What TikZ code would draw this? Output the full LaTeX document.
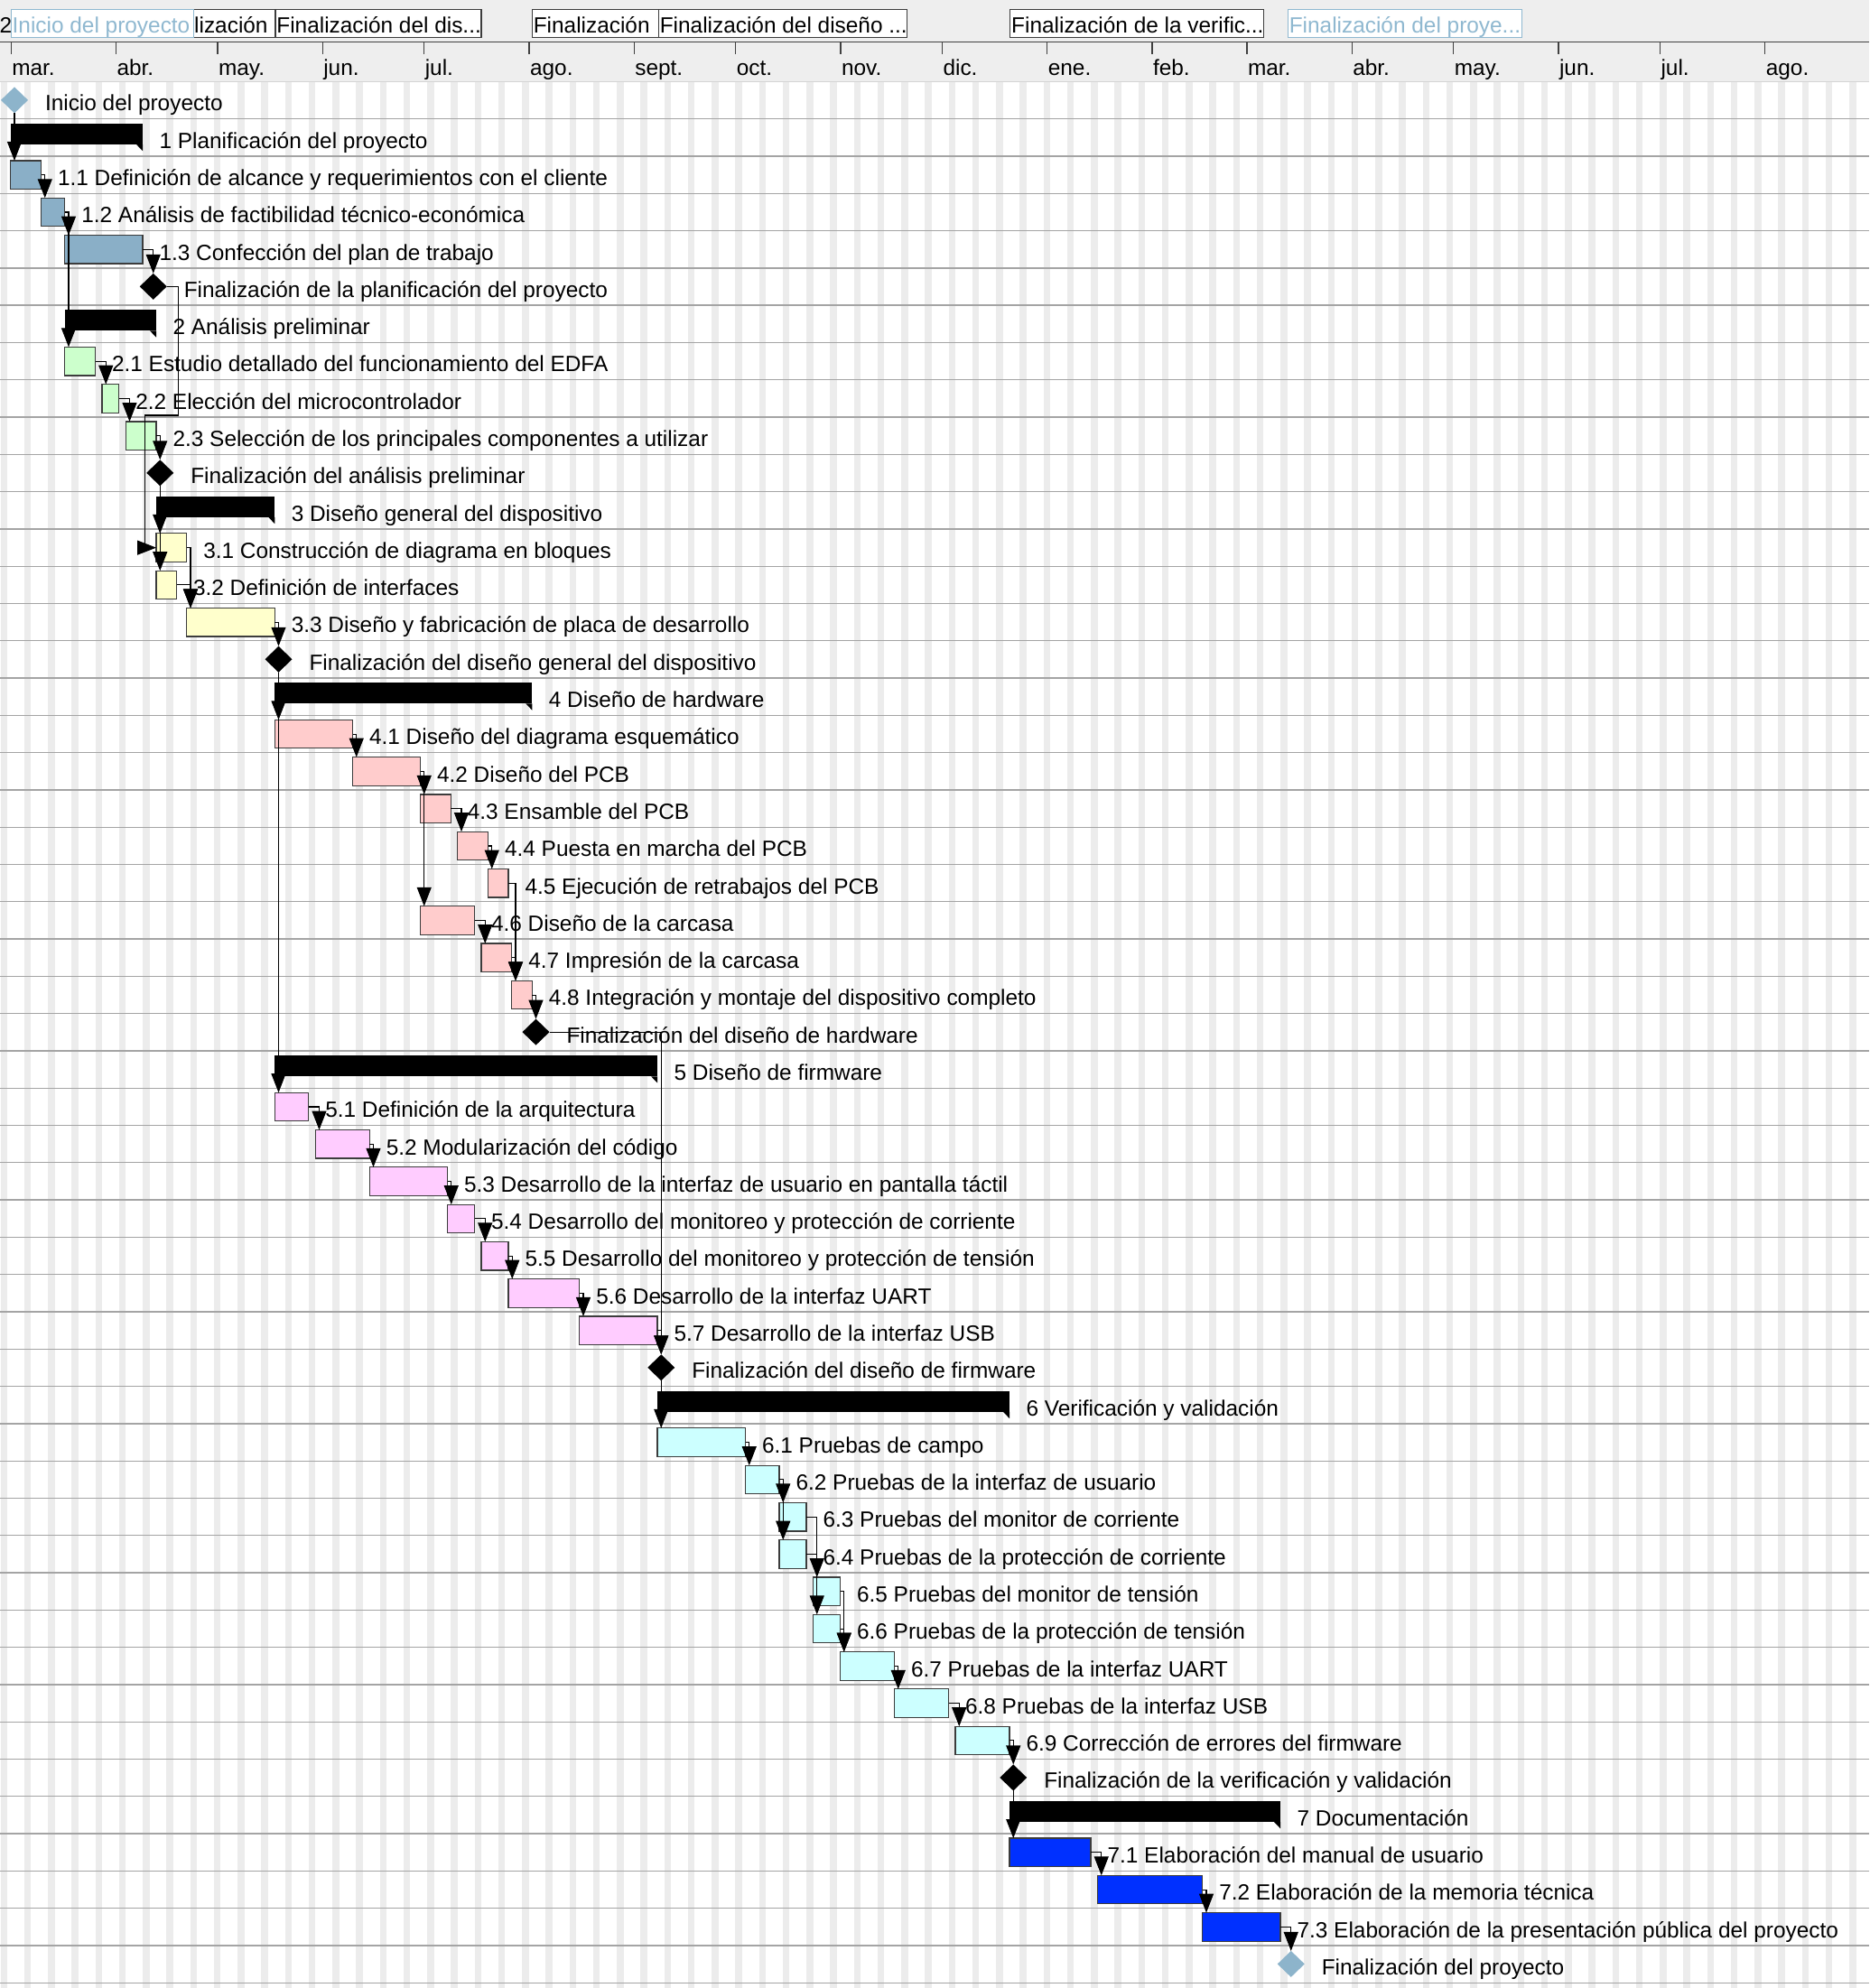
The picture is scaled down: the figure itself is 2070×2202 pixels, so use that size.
\documentclass[tikz,border=0pt]{standalone}
\usepackage{fontspec}
\setmainfont{Liberation Sans}
\usetikzlibrary{shapes.geometric,arrows.meta,calc}
\definecolor{gA}{HTML}{8AAFC7}
\definecolor{gB}{HTML}{CCFFCC}
\definecolor{gC}{HTML}{FFFFCC}
\definecolor{gD}{HTML}{FFCCCC}
\definecolor{gE}{HTML}{FFCCFF}
\definecolor{gF}{HTML}{CCFFFF}
\definecolor{gG}{HTML}{0030FF}
\definecolor{msblue}{HTML}{8DB4CB}
\definecolor{hdrblue}{HTML}{8FB8D0}
\definecolor{barline}{HTML}{3C3C3C}
\definecolor{hdrgray}{HTML}{EEEEEE}
\definecolor{wkend}{HTML}{ECECEC}
\definecolor{rowline}{HTML}{A4A4A4}
\definecolor{hdrline}{HTML}{D4D4D4}
\definecolor{axisc}{HTML}{404040}

\newcommand{\gTask}[6]{%
  \node[tbar, fill=#5, minimum width={3.75*(#4-#3)}] (#1) at ({gx(#3)},{gy(#2)+5}) {};
  \node[txt] (#1-l) at ({gx(#4)+18.5},{gy(#2)+32.5}) {#6};}
\newcommand{\gSum}[5]{%
  \node[sbar, minimum width={3.75*(#4-#3)}] (#1) at ({gx(#3)},{gy(#2)+5}) {};
  \fill (#1.south west) -- ++(0,7.3) -- ++(7,-7.3) -- cycle;
  \fill (#1.south east) -- ++(0,7.3) -- ++(-7,-7.3) -- cycle;
  \node[txt] (#1-l) at ({gx(#4)+18.5},{gy(#2)+32.5}) {#5};}
\newcommand{\gMile}[5]{%
  \node[ms, fill=#4] (#1) at ({gx(#3)+4.2},{gy(#2)+20.5}) {};
  \node[txt] (#1-l) at ({gx(#3)+38.2},{gy(#2)+32.5}) {#5};}
\newcommand{\gFS}[2]{\draw[dep] (#1.east) -| ($(#2.north west)+(4.2,0)$);}
\newcommand{\gTM}[2]{\draw[dep] (#1.east) -| (#2.north);}
\newcommand{\gMT}[2]{\draw[dep] (#1.south) -- ($(#2.north west)+(4.2,0)$);}
% header box: name, x, width, border colour, text x, text, text colour
\newcommand{\gHdr}[7]{%
  \node[hb, draw=#4, minimum width=#3] (#1) at (#2,10.5) {};
  \begin{scope}
    \clip (#2,10.5) rectangle ++(#3,31);
    \node[txt, text=#7] (#1-t) at (#5,36.5) {#6};
  \end{scope}}

\begin{document}
\begin{tikzpicture}[x=1pt,y=-1pt,
  declare function={gx(\x)=11.8+3.75*\x; gy(\x)=90.4+41.29*\x;},
  every node/.style={inner sep=0pt, outer sep=0pt},
  txt/.style={anchor=base west, font=\fontsize{24.4}{29}\selectfont},
  tbar/.style={rectangle, draw=barline, line width=1.2pt, anchor=north west, minimum height=31.5},
  sbar/.style={rectangle, fill=black, anchor=north west, minimum height=23.3},
  ms/.style={diamond, minimum width=30, minimum height=29},
  dep/.style={line width=1.1pt, -{Triangle[width=16pt,length=21pt]}},
  hb/.style={rectangle, fill=white, line width=1.2pt, anchor=north west, minimum height=31},
]
\useasboundingbox (0,0) rectangle (2070,2202);
\fill[white] (0,0) rectangle (2070,2202);
\fill[hdrgray] (0,0) rectangle (2070,90.4);

% weekend stripes
\foreach \k in {0,...,78}
  \fill[wkend] ({gx(-3+7*\k)},90.4) rectangle ({gx(-1+7*\k)},2202);
% row lines
\foreach \r in {1,...,51}
  \draw[rowline, line width=1.3pt] (0,{gy(\r)}) -- (2070,{gy(\r)});
\draw[hdrline, line width=1.3pt] (0,90.4) -- (2070,90.4);

% time axis
\draw[axisc, line width=1.4pt] (0,46.7) -- (2070,46.7);
\foreach \d/\m [count=\i] in {0/mar.,31/abr.,61/may.,92/jun.,122/jul.,153/ago.,184/sept.,214/oct.,245/nov.,275/dic.,306/ene.,337/feb.,365/mar.,396/abr.,426/may.,457/jun.,487/jul.,518/ago.}{
  \draw[axisc, line width=1.2pt] ({gx(\d)+0.5},46.7) -- ++(0,13.3);
  \node[txt] (mo\i) at ({gx(\d)+1.5},84) {\m};
}

% milestone boxes in the header
\node[txt] (h2) at (-0.3,36.5) {2};
\gHdr{hb5}{166.2}{138.8}{barline}{215.2}{lización}{black}
\gHdr{hb0}{12.3}{202.2}{hdrblue}{13.7}{Inicio del proyecto}{hdrblue}
\gHdr{hb15}{305}{228}{barline}{306.4}{Finalización del dis...}{black}
\gHdr{hb25}{589.4}{140}{barline}{590.8}{Finalización}{black}
\gHdr{hb34}{729.4}{275.2}{barline}{730.8}{Finalización del diseño ...}{black}
\gHdr{hb45}{1118.8}{280.6}{barline}{1120.2}{Finalización de la verific...}{black}
\gHdr{hb50}{1426.4}{258.8}{hdrblue}{1427.8}{Finalización del proye...}{hdrblue}

% tasks
\gMile{m0}{0}{0}{msblue}{Inicio del proyecto}
\gSum{s1}{1}{0}{39}{1 Planificación del proyecto}
\gTask{t11}{2}{0}{9}{gA}{1.1 Definición de alcance y requerimientos con el cliente}
\gTask{t12}{3}{9}{16}{gA}{1.2 Análisis de factibilidad técnico-económica}
\gTask{t13}{4}{16}{39}{gA}{1.3 Confección del plan de trabajo}
\gMile{m5}{5}{41}{black}{Finalización de la planificación del proyecto}
\gSum{s2}{6}{16}{43}{2 Análisis preliminar}
\gTask{t21}{7}{16}{25}{gB}{2.1 Estudio detallado del funcionamiento del EDFA}
\gTask{t22}{8}{27}{32}{gB}{2.2 Elección del microcontrolador}
\gTask{t23}{9}{34}{43}{gB}{2.3 Selección de los principales componentes a utilizar}
\gMile{m10}{10}{43}{black}{Finalización del análisis preliminar}
\gSum{s3}{11}{43}{78}{3 Diseño general del dispositivo}
\gTask{t31}{12}{43}{52}{gC}{3.1 Construcción de diagrama en bloques}
\gTask{t32}{13}{43}{49}{gC}{3.2 Definición de interfaces}
\gTask{t33}{14}{52}{78}{gC}{3.3 Diseño y fabricación de placa de desarrollo}
\gMile{m15}{15}{78}{black}{Finalización del diseño general del dispositivo}
\gSum{s4}{16}{78}{154}{4 Diseño de hardware}
\gTask{t41}{17}{78}{101}{gD}{4.1 Diseño del diagrama esquemático}
\gTask{t42}{18}{101}{121}{gD}{4.2 Diseño del PCB}
\gTask{t43}{19}{121}{130}{gD}{4.3 Ensamble del PCB}
\gTask{t44}{20}{132}{141}{gD}{4.4 Puesta en marcha del PCB}
\gTask{t45}{21}{141}{147}{gD}{4.5 Ejecución de retrabajos del PCB}
\gTask{t46}{22}{121}{137}{gD}{4.6 Diseño de la carcasa}
\gTask{t47}{23}{139}{148}{gD}{4.7 Impresión de la carcasa}
\gTask{t48}{24}{148}{154}{gD}{4.8 Integración y montaje del dispositivo completo}
\gMile{m25}{25}{154}{black}{Finalización del diseño de hardware}
\gSum{s5}{26}{78}{191}{5 Diseño de firmware}
\gTask{t51}{27}{78}{88}{gE}{5.1 Definición de la arquitectura}
\gTask{t52}{28}{90}{106}{gE}{5.2 Modularización del código}
\gTask{t53}{29}{106}{129}{gE}{5.3 Desarrollo de la interfaz de usuario en pantalla táctil}
\gTask{t54}{30}{129}{137}{gE}{5.4 Desarrollo del monitoreo y protección de corriente}
\gTask{t55}{31}{139}{147}{gE}{5.5 Desarrollo del monitoreo y protección de tensión}
\gTask{t56}{32}{147}{168}{gE}{5.6 Desarrollo de la interfaz UART}
\gTask{t57}{33}{168}{191}{gE}{5.7 Desarrollo de la interfaz USB}
\gMile{m34}{34}{191}{black}{Finalización del diseño de firmware}
\gSum{s6}{35}{191}{295}{6 Verificación y validación}
\gTask{t61}{36}{191}{217}{gF}{6.1 Pruebas de campo}
\gTask{t62}{37}{217}{227}{gF}{6.2 Pruebas de la interfaz de usuario}
\gTask{t63}{38}{227}{235}{gF}{6.3 Pruebas del monitor de corriente}
\gTask{t64}{39}{227}{235}{gF}{6.4 Pruebas de la protección de corriente}
\gTask{t65}{40}{237}{245}{gF}{6.5 Pruebas del monitor de tensión}
\gTask{t66}{41}{237}{245}{gF}{6.6 Pruebas de la protección de tensión}
\gTask{t67}{42}{245}{261}{gF}{6.7 Pruebas de la interfaz UART}
\gTask{t68}{43}{261}{277}{gF}{6.8 Pruebas de la interfaz USB}
\gTask{t69}{44}{279}{295}{gF}{6.9 Corrección de errores del firmware}
\gMile{m45}{45}{295}{black}{Finalización de la verificación y validación}
\gSum{s7}{46}{295}{375}{7 Documentación}
\gTask{t71}{47}{295}{319}{gG}{7.1 Elaboración del manual de usuario}
\gTask{t72}{48}{321}{352}{gG}{7.2 Elaboración de la memoria técnica}
\gTask{t73}{49}{352}{375}{gG}{7.3 Elaboración de la presentación pública del proyecto}
\gMile{m50}{50}{377}{msblue}{Finalización del proyecto}

% dependencies
\gMT{m0}{t11}
\gFS{t11}{t12}
\gFS{t12}{t13}
\gFS{t12}{t21}
\gTM{t13}{m5}
\coordinate (j1) at (197.8,{gy(9)-2});
\coordinate (j2) at (160.5,{gy(9)-2});
\draw[dep] (m5.east) -| (j1) -- (j2) |- (t31.west);
\gFS{t21}{t22}
\gFS{t22}{t23}
\gTM{t23}{m10}
\gMT{m10}{t31}
\gMT{m10}{t32}
\gFS{t31}{t33}
\gFS{t32}{t33}
\gTM{t33}{m15}
\gMT{m15}{t41}
\gMT{m15}{t51}
\gFS{t41}{t42}
\gFS{t42}{t43}
\gFS{t42}{t46}
\gFS{t43}{t44}
\gFS{t44}{t45}
\gFS{t45}{t48}
\gFS{t46}{t47}
\gFS{t47}{t48}
\gTM{t48}{m25}
\draw[dep] (m25.east) -| (m34.north);
\gFS{t51}{t52}
\gFS{t52}{t53}
\gFS{t53}{t54}
\gFS{t54}{t55}
\gFS{t55}{t56}
\gFS{t56}{t57}
\gTM{t57}{m34}
\gMT{m34}{t61}
\gFS{t61}{t62}
\gFS{t62}{t63}
\gFS{t62}{t64}
\gFS{t63}{t65}
\gFS{t64}{t66}
\gFS{t65}{t67}
\gFS{t66}{t67}
\gFS{t67}{t68}
\gFS{t68}{t69}
\gTM{t69}{m45}
\gMT{m45}{t71}
\gFS{t71}{t72}
\gFS{t72}{t73}
\gTM{t73}{m50}
\end{tikzpicture}
\end{document}
